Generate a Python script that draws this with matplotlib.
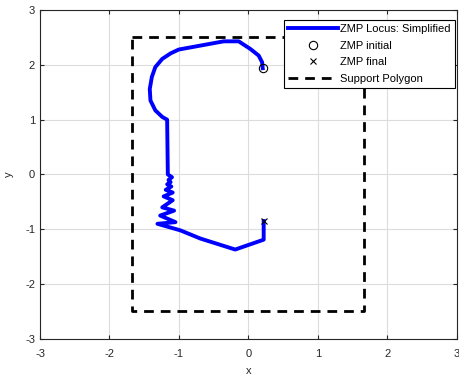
import matplotlib
matplotlib.use("Agg")
import matplotlib.pyplot as plt

plt.rcParams['font.family'] = ['Liberation Sans', 'DejaVu Sans']
plt.rcParams['axes.unicode_minus'] = False

zmp_x = [0.206, 0.197, 0.148, 0.029, -0.14, -0.355, -1.003, -1.12, -1.24, -1.34, -1.39,
         -1.42, -1.41, -1.34, -1.24, -1.17, -1.16, -1.10, -1.15, -1.12, -1.17, -1.11,
         -1.19, -1.09, -1.22, -1.09, -1.24, -1.07, -1.27, -1.05, -1.31, -0.98, -0.69,
         -0.19, 0.22, 0.22]
zmp_y = [1.94, 2.05, 2.17, 2.29, 2.43, 2.43, 2.28, 2.21, 2.11, 1.96, 1.78,
         1.56, 1.35, 1.17, 1.05, 1.00, 0.0, -0.05, -0.1, -0.14, -0.18, -0.22,
         -0.28, -0.33, -0.4, -0.47, -0.6, -0.66, -0.75, -0.87, -0.9, -1.02, -1.17,
         -1.37, -1.19, -0.85]
poly_x = [-1.67, 1.67, 1.67, -1.67, -1.67]
poly_y = [2.5, 2.5, -2.5, -2.5, 2.5]
ticks = [-3, -2, -1, 0, 1, 2, 3]

fig = plt.figure(figsize=(4.6, 3.74), dpi=100)
ax = fig.add_axes([0.087, 0.094, 0.906, 0.879])
ax.plot(zmp_x, zmp_y, color='#0000ff', lw=2.8, label='ZMP Locus: Simplified', zorder=3)
ax.plot(zmp_x[0], zmp_y[0], 'o', mfc='none', mec='black', ms=6, mew=0.8, label='ZMP initial', zorder=4)
ax.plot(zmp_x[-1], zmp_y[-1], 'x', color='black', ms=4.5, mew=0.8, label='ZMP final', zorder=4)
ax.plot(poly_x, poly_y, '--', color='black', lw=2.0, dashes=(3.5, 2.5), label='Support Polygon', zorder=2)

ax.set_xlim(-3, 3)
ax.set_ylim(-3, 3)
ax.set_xticks(ticks)
ax.set_yticks(ticks)
ax.grid(True, color='#dcdcdc', lw=0.8)
ax.set_axisbelow(True)
ax.tick_params(direction='in', labelsize=8, length=3, top=True, right=True, colors='#262626')
ax.tick_params(axis='x', pad=7)
for s in ax.spines.values():
    s.set_linewidth(0.8)
    s.set_color('#262626')
ax.set_xlabel('x', fontsize=8, labelpad=5, color='#262626')
ax.set_ylabel('y', fontsize=8, labelpad=8, color='#262626')

leg = ax.legend(loc='upper right', bbox_to_anchor=(0.995, 0.97), fontsize=8,
                fancybox=False, framealpha=1, edgecolor='black', borderpad=0.35,
                labelspacing=0.6, handlelength=4.5, handletextpad=0.2, borderaxespad=0)
leg.get_frame().set_linewidth(0.8)

fig.savefig('out.png', dpi=100)
